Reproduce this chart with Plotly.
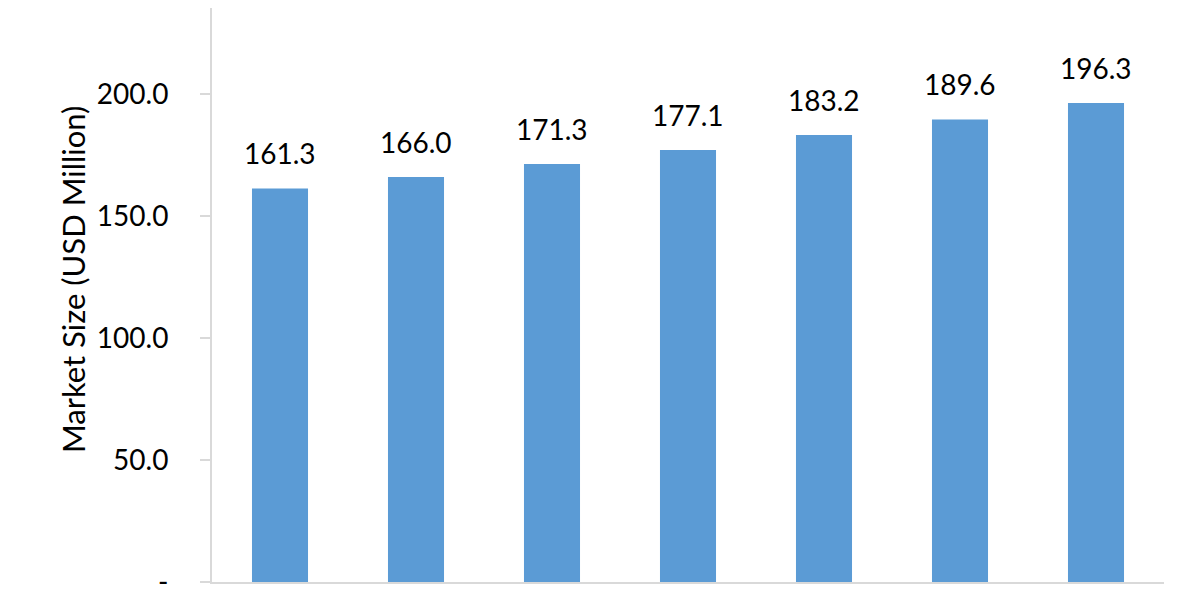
import plotly.graph_objects as go

years = ["2023", "2024", "2025", "2026", "2027", "2028", "2029"]
market_size = [161.3, 166.0, 171.3, 177.1, 183.2, 189.6, 196.3]
tick_values = [0, 50, 100, 150, 200]
tick_labels = ["-", "50.0", "100.0", "150.0", "200.0"]

fig = go.Figure(
    go.Bar(
        x=years,
        y=market_size,
        marker=dict(color="#5B9BD5", line=dict(width=0)),
    )
)

# value labels above the bars (x given as category index)
for i, val in enumerate(market_size):
    fig.add_annotation(
        x=i, y=val,
        text=f"{val:.1f}",
        showarrow=False,
        yanchor="bottom",
        yshift=16,
        font=dict(size=28, color="#000000"),
    )

# y axis title placed by hand so it sits where the reference has it
fig.add_annotation(
    xref="paper", yref="paper",
    x=-0.146, y=0.526,
    xanchor="center", yanchor="middle",
    text="Market Size (USD Million)",
    textangle=-90,
    showarrow=False,
    font=dict(size=31, color="#000000"),
)

fig.update_layout(
    width=1192,
    height=592,
    margin=dict(l=204, r=36, t=0, b=18, autoexpand=False),
    plot_bgcolor="white",
    paper_bgcolor="white",
    font=dict(family="Lato, Carlito, sans-serif", size=28, color="#000000"),
    bargap=0.588,
    showlegend=False,
    xaxis=dict(
        type="category",
        range=[-0.5, 6.5],
        showticklabels=False,
        showline=True,
        linecolor="#D9D9D9",
        linewidth=2,
        ticks="",
        showgrid=False,
    ),
    yaxis=dict(
        range=[0, 235.25],
        tickvals=tick_values,
        ticktext=tick_labels,
        showline=True,
        linecolor="#D9D9D9",
        linewidth=2,
        ticks="outside",
        ticklen=10,
        tickcolor="#D9D9D9",
        tickwidth=2,
        ticklabelstandoff=26,
        showgrid=False,
        zeroline=False,
    ),
)

fig.write_html("out.html")
